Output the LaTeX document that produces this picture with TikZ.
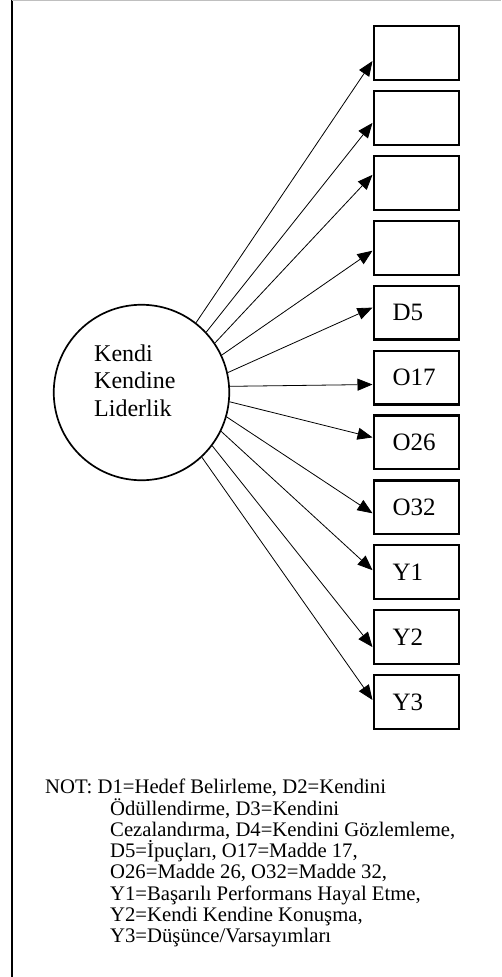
\documentclass[tikz,border=0pt]{standalone}
\usepackage{fontspec}
\setmainfont{Liberation Serif}
\usetikzlibrary{arrows.meta,calc}
\begin{document}
\begin{tikzpicture}[x=1pt,y=-1pt,
  ind/.style={draw,line width=2.2pt,rectangle,text width=47.3pt,align=left,
    inner xsep=19pt,inner ysep=0pt,minimum height=53.8pt,
    font=\fontsize{25}{28}\selectfont},
  lat/.style={draw,circle,line width=1.7pt,minimum size=175.5pt,inner sep=0pt},
  arr/.style={line width=0.8pt,-{Triangle[length=15pt,width=12pt]}}]
\useasboundingbox (0,0) rectangle (501,977);
% frame
\draw[line width=2.3pt] (12,0) -- (12,977);
\draw[black!25,line width=1pt] (12,0.5) -- (501,0.5);
% latent
\node[lat] (c) at (141.5,392.5) {};
\node[anchor=base west,align=left,inner sep=0pt,
  font=\fontsize{24}{27.5}\selectfont] (ct) at (94,416) {Kendi\\Kendine\\Liderlik};
% indicators
\node[ind] (b1) at (416.25,53.0) {};
\node[ind] (b2) at (416.25,117.9) {};
\node[ind] (b3) at (416.25,182.8) {};
\node[ind] (b4) at (416.25,247.7) {};
\node[ind] (b5) at (416.25,312.6) {D5};
\node[ind] (b6) at (416.25,377.5) {O17};
\node[ind] (b7) at (416.25,442.4) {O26};
\node[ind] (b8) at (416.25,507.3) {O32};
\node[ind] (b9) at (416.25,572.2) {Y1};
\node[ind] (b10) at (416.25,637.1) {Y2};
\node[ind] (b11) at (416.25,702.0) {Y3};
% arrows
\foreach \n/\a/\d in {b1/52.8/8,b2/43.2/5,b3/34.1/-8,b4/25.3/3,b5/13.8/-5,
  b6/4.8/7,b7/-6.1/-5,b8/-16.4/6,b9/-26.7/-2,b10/-37.3/10,b11/-47.7/-2}
  \draw[arr] (c.\a) -- ($(\n.west)+(0,\d)$);
% note
\node[anchor=base west,align=left,inner sep=0pt,
  font=\fontsize{20.7}{21.25}\selectfont] (note) at (45,942.7)
  {NOT: D1=Hedef Belirleme, D2=Kendini\\
   \hspace*{65pt}Ödüllendirme, D3=Kendini\\
   \hspace*{65pt}Cezalandırma, D4=Kendini Gözlemleme,\\
   \hspace*{65pt}D5=İpuçları, O17=Madde 17,\\
   \hspace*{65pt}O26=Madde 26, O32=Madde 32,\\
   \hspace*{65pt}Y1=Başarılı Performans Hayal Etme,\\
   \hspace*{65pt}Y2=Kendi Kendine Konuşma,\\
   \hspace*{65pt}Y3=Düşünce/Varsayımları};
\end{tikzpicture}
\end{document}
